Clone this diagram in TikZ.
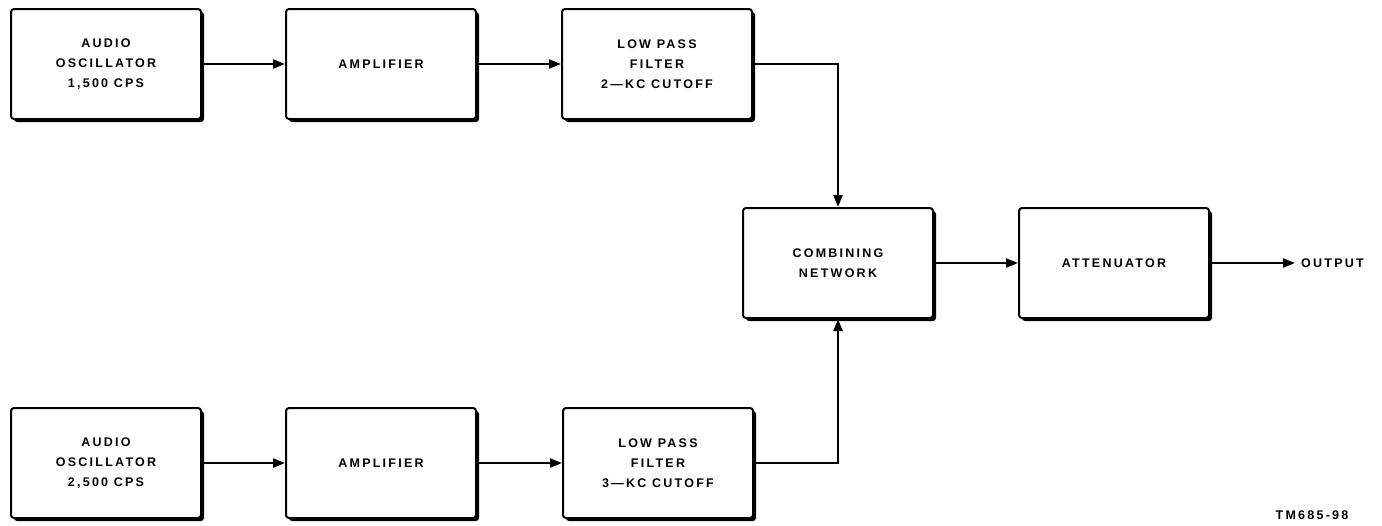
\documentclass[tikz,border=0pt]{standalone}
\usepackage{fontspec}
\setmainfont{Liberation Sans}
\newfontfamily\labfont[LetterSpace=18]{Liberation Sans}
\usetikzlibrary{arrows.meta,shadows}
\begin{document}
\begin{tikzpicture}[x=1pt,y=-1pt,
  blk/.style={draw, line width=2pt, rounded corners=3pt, fill=white,
    minimum width=190pt, minimum height=110pt, align=center, inner sep=0pt,
    font=\labfont\bfseries\fontsize{12.5}{20}\selectfont,
    drop shadow={shadow xshift=3pt, shadow yshift=-3pt, fill=black, opacity=1}},
  wire/.style={line width=2pt, -{Triangle[length=12pt,width=9pt]}},
  lbl/.style={font=\labfont\bfseries\fontsize{12.5}{20}\selectfont, inner sep=0pt}]
\useasboundingbox[fill=white] (0,0) rectangle (1382,525);
% top row
\node[blk] (osc1) at (106,64) {AUDIO\\OSCILLATOR\\1,500 CPS};
\node[blk] (amp1) at (381,64) {AMPLIFIER};
\node[blk] (lpf1) at (657,64) {LOW PASS\\FILTER\\2—KC CUTOFF};
% bottom row
\node[blk] (osc2) at (106,463) {AUDIO\\OSCILLATOR\\2,500 CPS};
\node[blk] (amp2) at (381,463) {AMPLIFIER};
\node[blk] (lpf2) at (658,463) {LOW PASS\\FILTER\\3—KC CUTOFF};
% middle
\node[blk] (comb) at (838,263) {COMBINING\\NETWORK};
\node[blk] (att) at (1114,263) {ATTENUATOR};
\coordinate (out) at (1295,263);
\node[lbl, anchor=west] (outlbl) at (1301,263) {OUTPUT};
\node[lbl, font=\labfont\bfseries\fontsize{12.5}{14}\selectfont] (tm) at (1312,515) {TM685-98};
% connectors
\draw[wire] (osc1) -- (amp1);
\draw[wire] (amp1) -- (lpf1);
\draw[wire] (osc2) -- (amp2);
\draw[wire] (amp2) -- (lpf2);
\draw[wire] (lpf1.east) -| (comb.north);
\draw[wire] (lpf2.east) -| (comb.south);
\draw[wire] (comb) -- (att);
\draw[wire] (att) -- (out);
\end{tikzpicture}
\end{document}
